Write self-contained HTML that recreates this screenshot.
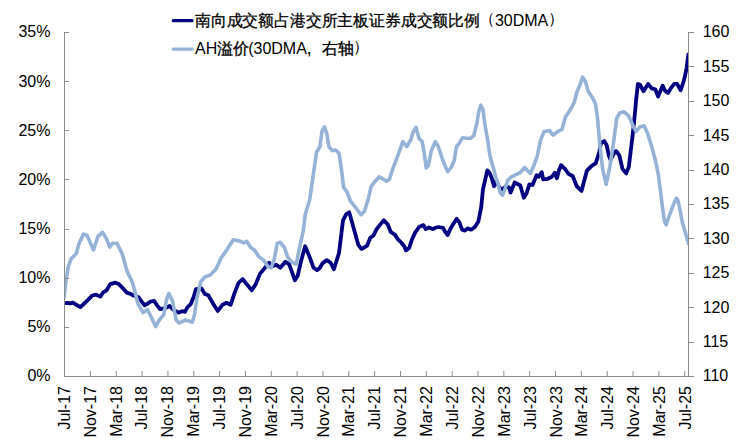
<!DOCTYPE html>
<html><head><meta charset="utf-8"><style>
html,body{margin:0;padding:0;background:#fff;width:746px;height:442px;overflow:hidden}
svg{display:block}
.t{font-family:"Liberation Sans",sans-serif;font-size:16px;fill:#000}
.cj{stroke:#000;stroke-width:0.3px}
</style></head><body>
<svg width="746" height="442" viewBox="0 0 746 442"><rect width="746" height="442" fill="#fff"/><defs><clipPath id="pc"><rect x="64.5" y="0" width="624.5" height="442"/></clipPath></defs><path clip-path="url(#pc)" d="M63.5,303.4 L67.4,302.8 L70.2,303.4 L73.0,302.6 L75.8,304.5 L80.4,307.1 L84.9,302.8 L88.3,299.6 L92.2,295.5 L96.2,294.7 L100.2,296.6 L103.0,292.6 L106.4,290.4 L110.3,284.1 L115.4,282.7 L118.8,284.1 L123.3,288.7 L126.7,292.6 L130.7,294.0 L133.5,295.5 L138.7,297.2 L141.6,301.6 L144.6,305.3 L147.5,303.8 L150.4,301.6 L154.1,300.9 L157.1,305.3 L160.0,309.0 L164.4,308.5 L169.6,306.0 L173.2,309.7 L178.4,312.6 L182.1,311.2 L185.0,311.9 L187.2,307.5 L190.9,303.8 L193.8,296.5 L196.0,289.1 L201.5,288.5 L204.9,294.0 L208.3,295.3 L213.0,303.4 L217.8,310.9 L222.5,304.8 L226.6,302.8 L230.6,304.8 L234.7,292.6 L238.5,283.0 L242.6,279.0 L246.7,284.1 L251.8,290.2 L255.8,284.1 L259.9,273.9 L265.0,267.8 L269.1,262.7 L271.1,266.8 L276.2,264.7 L280.3,267.8 L285.4,261.7 L289.2,264.4 L292.1,272.4 L294.9,280.3 L297.7,275.8 L301.1,261.0 L305.1,246.3 L309.0,255.4 L313.6,267.8 L317.0,270.1 L319.6,268.2 L322.7,263.1 L326.8,260.1 L330.8,263.1 L333.9,269.2 L339.0,253.0 L343.0,220.4 L346.1,214.3 L349.2,212.2 L353.2,226.5 L358.3,244.8 L361.4,248.9 L363.2,248.1 L367.1,245.7 L370.3,237.8 L373.5,235.4 L376.6,229.1 L379.8,225.1 L383.8,220.3 L387.7,224.3 L390.9,232.2 L394.9,234.6 L398.0,239.4 L401.2,242.5 L404.4,246.5 L405.9,250.4 L409.1,248.1 L412.3,238.6 L415.4,232.2 L419.4,226.7 L423.4,225.1 L425.7,229.1 L428.9,227.5 L432.9,229.1 L436.0,227.5 L438.6,227.0 L443.1,227.9 L445.0,231.5 L447.7,235.1 L450.4,228.8 L453.1,224.3 L456.7,218.8 L459.4,222.4 L462.1,229.7 L464.9,230.6 L467.6,228.4 L471.2,229.7 L474.8,227.0 L478.4,221.5 L481.2,207.1 L483.0,189.0 L484.8,181.7 L487.3,170.4 L489.5,172.6 L491.8,178.3 L494.0,186.2 L496.3,180.5 L499.7,188.5 L503.1,189.0 L505.9,186.2 L509.1,187.5 L510.6,192.6 L514.7,182.4 L520.3,185.5 L523.8,197.7 L526.4,193.6 L529.4,184.4 L532.5,185.0 L536.6,175.3 L538.6,176.8 L541.7,172.2 L543.2,179.3 L547.8,178.8 L551.8,176.8 L554.9,172.7 L556.9,178.3 L559.0,170.2 L561.1,165.1 L565.2,169.2 L568.6,174.0 L572.7,176.0 L576.7,186.2 L581.5,191.0 L584.2,180.8 L586.9,170.6 L591.7,165.8 L595.8,163.1 L599.2,152.2 L601.0,143.0 L604.3,141.1 L606.6,145.0 L609.0,156.0 L610.6,160.0 L613.8,153.7 L616.1,150.9 L619.3,155.3 L622.5,168.9 L626.1,173.4 L628.8,167.1 L632.3,138.1 L634.1,121.8 L636.2,99.3 L637.9,84.0 L640.0,84.8 L643.6,91.2 L648.1,83.9 L651.7,88.4 L655.3,89.3 L658.1,96.6 L662.6,85.7 L665.3,91.2 L668.0,93.0 L670.7,88.4 L674.3,83.9 L677.1,83.9 L680.7,90.2 L683.4,82.1 L684.6,77.8 L686.6,68.1 L688.3,54.5" fill="none" stroke="#000080" stroke-width="3.8" stroke-linejoin="round" stroke-linecap="round"/><path clip-path="url(#pc)" d="M64.0,298.0 L66.0,280.0 L68.3,267.0 L71.0,259.0 L76.3,253.5 L79.0,243.5 L83.5,234.1 L87.1,235.4 L93.5,249.9 L98.0,236.3 L102.5,232.3 L106.2,238.1 L109.8,247.1 L112.5,243.2 L117.0,243.2 L122.4,254.4 L127.0,271.0 L132.4,282.4 L135.0,292.0 L137.9,303.8 L143.1,312.6 L147.5,309.7 L151.2,317.0 L155.6,326.6 L159.3,320.0 L163.7,314.9 L166.6,299.4 L168.8,293.5 L172.5,300.9 L176.2,320.0 L179.1,322.9 L185.7,320.0 L192.4,322.2 L194.6,314.1 L196.7,299.4 L200.8,281.7 L204.9,277.0 L210.3,274.9 L215.7,269.5 L218.4,264.0 L220.5,259.0 L224.3,253.5 L228.3,247.4 L233.4,239.7 L239.5,240.9 L243.6,242.9 L246.7,241.3 L250.7,247.4 L253.8,249.4 L258.9,256.6 L264.0,260.6 L268.0,266.8 L271.1,267.8 L274.2,259.6 L277.2,243.3 L280.3,242.3 L284.3,247.4 L288.1,258.0 L292.1,262.1 L296.2,264.2 L299.3,248.9 L303.3,230.5 L305.2,214.5 L309.7,199.8 L313.1,176.1 L316.5,152.3 L319.9,146.7 L322.1,130.8 L324.4,126.8 L326.7,133.1 L328.9,146.7 L332.3,150.7 L335.7,150.1 L339.1,153.5 L341.4,169.3 L343.6,187.4 L347.0,191.9 L350.4,201.0 L354.9,206.6 L361.0,214.8 L364.5,211.0 L368.1,199.6 L371.2,186.4 L374.3,182.3 L379.3,176.8 L386.5,181.3 L389.5,179.2 L392.6,169.1 L394.6,164.0 L397.7,155.8 L402.8,141.6 L406.8,146.7 L410.9,139.5 L413.0,132.4 L416.0,127.3 L419.1,138.5 L422.1,141.6 L424.2,152.8 L426.2,168.0 L428.2,166.0 L431.3,150.7 L435.4,141.6 L438.4,146.7 L442.1,158.1 L445.2,166.3 L447.7,171.6 L451.3,167.3 L454.3,160.2 L456.4,146.9 L459.4,142.9 L462.5,137.8 L466.6,138.2 L470.6,138.4 L473.7,135.7 L476.8,123.5 L478.8,111.3 L480.8,105.2 L482.9,109.3 L484.9,124.5 L488.0,141.8 L489.0,150.0 L490.7,159.0 L493.5,168.1 L495.7,177.1 L498.0,184.0 L500.3,193.0 L502.5,195.2 L504.8,189.6 L507.6,180.5 L511.0,177.1 L515.5,174.9 L520.1,172.6 L524.6,167.5 L530.4,173.5 L533.8,165.6 L537.1,156.6 L540.5,140.7 L543.9,131.7 L549.6,130.5 L553.0,135.1 L557.5,131.7 L562.0,129.4 L565.4,117.0 L570.0,110.2 L574.1,102.7 L577.1,91.5 L580.2,84.3 L582.6,77.2 L585.3,81.3 L588.3,91.5 L592.4,97.6 L595.5,103.7 L597.5,118.0 L599.9,145.3 L602.6,168.9 L606.2,184.3 L609.8,167.1 L613.4,143.5 L616.8,118.0 L619.9,112.9 L624.0,111.8 L628.4,115.6 L631.2,121.3 L633.5,127.0 L636.3,131.5 L639.7,127.0 L644.2,125.8 L647.6,133.5 L652.1,147.9 L655.3,160.0 L658.3,174.3 L660.4,190.5 L662.4,206.8 L664.4,221.1 L666.1,224.8 L668.5,218.0 L672.6,206.8 L676.3,198.1 L678.0,200.5 L679.7,208.5 L682.4,222.5 L685.8,234.0 L688.5,243.5" fill="none" stroke="#95b3d7" stroke-width="3.6" stroke-linejoin="round" stroke-linecap="round"/><path d="M64.5,32 V376.5 H694" fill="none" stroke="#8c8c8c" stroke-width="1"/><path d="M688.5,32 V376.5" fill="none" stroke="#8c8c8c" stroke-width="1"/><path d="M64,376.5 H69" stroke="#8c8c8c" stroke-width="1"/><text x="50.5" y="381" text-anchor="end" class="t">0%</text><path d="M64,327.5 H69" stroke="#8c8c8c" stroke-width="1"/><text x="50.5" y="332" text-anchor="end" class="t">5%</text><path d="M64,278.5 H69" stroke="#8c8c8c" stroke-width="1"/><text x="50.5" y="283" text-anchor="end" class="t">10%</text><path d="M64,229.5 H69" stroke="#8c8c8c" stroke-width="1"/><text x="50.5" y="234" text-anchor="end" class="t">15%</text><path d="M64,179.5 H69" stroke="#8c8c8c" stroke-width="1"/><text x="50.5" y="185" text-anchor="end" class="t">20%</text><path d="M64,130.5 H69" stroke="#8c8c8c" stroke-width="1"/><text x="50.5" y="136" text-anchor="end" class="t">25%</text><path d="M64,81.5 H69" stroke="#8c8c8c" stroke-width="1"/><text x="50.5" y="87" text-anchor="end" class="t">30%</text><path d="M64,32.5 H69" stroke="#8c8c8c" stroke-width="1"/><text x="50.5" y="37" text-anchor="end" class="t">35%</text><path d="M688,376.5 H694" stroke="#8c8c8c" stroke-width="1"/><text x="702.7" y="381" class="t">110</text><path d="M688,342.5 H694" stroke="#8c8c8c" stroke-width="1"/><text x="702.7" y="347" class="t">115</text><path d="M688,307.5 H694" stroke="#8c8c8c" stroke-width="1"/><text x="702.7" y="313" class="t">120</text><path d="M688,273.5 H694" stroke="#8c8c8c" stroke-width="1"/><text x="702.7" y="278" class="t">125</text><path d="M688,238.5 H694" stroke="#8c8c8c" stroke-width="1"/><text x="702.7" y="244" class="t">130</text><path d="M688,204.5 H694" stroke="#8c8c8c" stroke-width="1"/><text x="702.7" y="209" class="t">135</text><path d="M688,170.5 H694" stroke="#8c8c8c" stroke-width="1"/><text x="702.7" y="175" class="t">140</text><path d="M688,135.5 H694" stroke="#8c8c8c" stroke-width="1"/><text x="702.7" y="141" class="t">145</text><path d="M688,101.5 H694" stroke="#8c8c8c" stroke-width="1"/><text x="702.7" y="106" class="t">150</text><path d="M688,66.5 H694" stroke="#8c8c8c" stroke-width="1"/><text x="702.7" y="72" class="t">155</text><path d="M688,32.5 H694" stroke="#8c8c8c" stroke-width="1"/><text x="702.7" y="37" class="t">160</text><text transform="translate(69.80,386) rotate(-90)" text-anchor="end" class="t">Jul-17</text><path d="M90.44,371 V376" stroke="#8c8c8c" stroke-width="1"/><text transform="translate(95.68,386) rotate(-90)" text-anchor="end" class="t">Nov-17</text><path d="M116.28,371 V376" stroke="#8c8c8c" stroke-width="1"/><text transform="translate(121.56,386) rotate(-90)" text-anchor="end" class="t">Mar-18</text><path d="M142.11,371 V376" stroke="#8c8c8c" stroke-width="1"/><text transform="translate(147.44,386) rotate(-90)" text-anchor="end" class="t">Jul-18</text><path d="M167.95,371 V376" stroke="#8c8c8c" stroke-width="1"/><text transform="translate(173.32,386) rotate(-90)" text-anchor="end" class="t">Nov-18</text><path d="M193.79,371 V376" stroke="#8c8c8c" stroke-width="1"/><text transform="translate(199.20,386) rotate(-90)" text-anchor="end" class="t">Mar-19</text><path d="M219.62,371 V376" stroke="#8c8c8c" stroke-width="1"/><text transform="translate(225.08,386) rotate(-90)" text-anchor="end" class="t">Jul-19</text><path d="M245.46,371 V376" stroke="#8c8c8c" stroke-width="1"/><text transform="translate(250.96,386) rotate(-90)" text-anchor="end" class="t">Nov-19</text><path d="M271.30,371 V376" stroke="#8c8c8c" stroke-width="1"/><text transform="translate(276.84,386) rotate(-90)" text-anchor="end" class="t">Mar-20</text><path d="M297.14,371 V376" stroke="#8c8c8c" stroke-width="1"/><text transform="translate(302.72,386) rotate(-90)" text-anchor="end" class="t">Jul-20</text><path d="M322.98,371 V376" stroke="#8c8c8c" stroke-width="1"/><text transform="translate(328.60,386) rotate(-90)" text-anchor="end" class="t">Nov-20</text><path d="M348.81,371 V376" stroke="#8c8c8c" stroke-width="1"/><text transform="translate(354.48,386) rotate(-90)" text-anchor="end" class="t">Mar-21</text><path d="M374.65,371 V376" stroke="#8c8c8c" stroke-width="1"/><text transform="translate(380.36,386) rotate(-90)" text-anchor="end" class="t">Jul-21</text><path d="M400.49,371 V376" stroke="#8c8c8c" stroke-width="1"/><text transform="translate(406.24,386) rotate(-90)" text-anchor="end" class="t">Nov-21</text><path d="M426.33,371 V376" stroke="#8c8c8c" stroke-width="1"/><text transform="translate(432.12,386) rotate(-90)" text-anchor="end" class="t">Mar-22</text><path d="M452.16,371 V376" stroke="#8c8c8c" stroke-width="1"/><text transform="translate(458.00,386) rotate(-90)" text-anchor="end" class="t">Jul-22</text><path d="M478.00,371 V376" stroke="#8c8c8c" stroke-width="1"/><text transform="translate(483.88,386) rotate(-90)" text-anchor="end" class="t">Nov-22</text><path d="M503.84,371 V376" stroke="#8c8c8c" stroke-width="1"/><text transform="translate(509.76,386) rotate(-90)" text-anchor="end" class="t">Mar-23</text><path d="M529.68,371 V376" stroke="#8c8c8c" stroke-width="1"/><text transform="translate(535.64,386) rotate(-90)" text-anchor="end" class="t">Jul-23</text><path d="M555.51,371 V376" stroke="#8c8c8c" stroke-width="1"/><text transform="translate(561.52,386) rotate(-90)" text-anchor="end" class="t">Nov-23</text><path d="M581.35,371 V376" stroke="#8c8c8c" stroke-width="1"/><text transform="translate(587.40,386) rotate(-90)" text-anchor="end" class="t">Mar-24</text><path d="M607.19,371 V376" stroke="#8c8c8c" stroke-width="1"/><text transform="translate(613.28,386) rotate(-90)" text-anchor="end" class="t">Jul-24</text><path d="M633.03,371 V376" stroke="#8c8c8c" stroke-width="1"/><text transform="translate(639.16,386) rotate(-90)" text-anchor="end" class="t">Nov-24</text><path d="M658.86,371 V376" stroke="#8c8c8c" stroke-width="1"/><text transform="translate(665.04,386) rotate(-90)" text-anchor="end" class="t">Mar-25</text><path d="M684.70,371 V376" stroke="#8c8c8c" stroke-width="1"/><text transform="translate(690.92,386) rotate(-90)" text-anchor="end" class="t">Jul-25</text><path d="M173.3,20.7 H192" stroke="#000080" stroke-width="3.2" stroke-linecap="round"/><path d="M173.3,49.2 H192" stroke="#95b3d7" stroke-width="3.2" stroke-linecap="round"/><text x="195" y="25.6" class="t cj" textLength="284.9" lengthAdjust="spacingAndGlyphs">南向成交额占港交所主板证券成交额比例</text><text x="478.7" y="23.8" class="t">（</text><text x="494.9" y="25.6" class="t">30DMA</text><text x="547.9" y="23.8" class="t">）</text><text x="353.3" y="51.8" class="t">）</text><text x="306.6" y="53.6" class="t" style="font-size:19px">,</text><text y="53.6" class="t"><tspan x="195">AH</tspan><tspan class="cj">溢价</tspan><tspan x="248.2">(30DMA</tspan><tspan x="321.5" class="cj">右轴</tspan></text></svg>
</body></html>
